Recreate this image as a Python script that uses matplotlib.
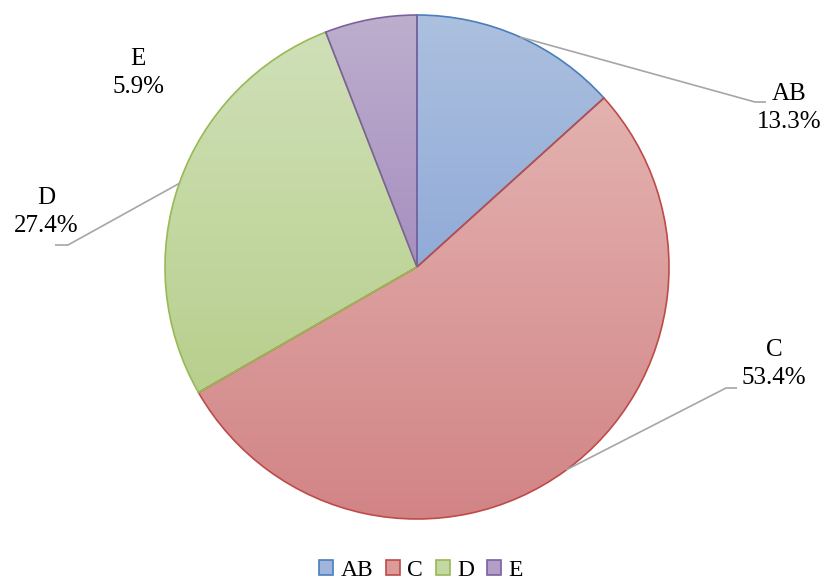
import numpy as np
import matplotlib
matplotlib.use("Agg")
import matplotlib.pyplot as plt
from matplotlib.patches import Patch
from matplotlib.colors import to_rgb

categories = ["AB", "C", "D", "E"]
shares = [13.3, 53.4, 27.4, 5.9]

edge_colors = ["#4a7ebb", "#be4b48", "#98b954", "#7d60a0"]
top_colors = ["#acc0df", "#e3b2b0", "#cfe0b8", "#bdaecd"]
bottom_colors = ["#91abd8", "#d28485", "#b8cf8d", "#a78fc0"]

plt.rcParams["font.family"] = ["Liberation Serif", "DejaVu Serif"]

W, H = 826, 581
fig = plt.figure(figsize=(W / 100, H / 100), dpi=100)
ax = fig.add_axes([0, 0, 1, 1])
ax.set_xlim(0, W)
ax.set_ylim(0, H)
ax.axis("off")

cx, cy, R = 417, H - 267, 252

wedges, _ = ax.pie(shares, center=(cx, cy), radius=R, startangle=90,
                   counterclock=False, frame=True,
                   wedgeprops=dict(facecolor="none", linewidth=1.2, zorder=3))
for w, ec, top, bot in zip(wedges, edge_colors, top_colors, bottom_colors):
    w.set_edgecolor(ec)
    ext = w.get_path().get_extents()
    t = np.linspace(0, 1, 256)[:, None, None]
    grad = (1 - t) * np.array(to_rgb(top)) + t * np.array(to_rgb(bot))
    im = ax.imshow(grad, extent=(ext.x0, ext.x1, ext.y0, ext.y1), origin="upper",
                   aspect="auto", zorder=2, interpolation="bilinear")
    im.set_clip_path(w)

ax.set_xlim(0, W)
ax.set_ylim(0, H)
ax.set_aspect("auto")
ax.axis("off")

# label positions (text centre) and leader lines
label_pos = {
    "AB": (789, H - 108),
    "C": (774, H - 364),
    "D": (46, H - 212),
    "E": (138, H - 73),
}
leaders = {
    "AB": [(520, 37), (755, 102), (766, 102)],
    "C": [(737, 388), (726, 388), (566, 470)],
    "D": [(55, 245), (68, 245), (180, 183)],
}
lc = "#a6a6a6"
for cat, pts in leaders.items():
    xs = [p[0] for p in pts]
    ys = [H - p[1] for p in pts]
    ax.plot(xs, ys, color=lc, lw=1.2, zorder=4, solid_capstyle="butt")

for cat, val in zip(categories, shares):
    x, y = label_pos[cat]
    ax.text(x, y, f"{cat}\n{val:.1f}%", ha="center", va="center",
            fontsize=18, linespacing=1.3, zorder=5)

handles = [Patch(facecolor=(np.array(to_rgb(t)) + np.array(to_rgb(b))) / 2,
                 edgecolor=e, linewidth=1.2)
           for t, b, e in zip(top_colors, bottom_colors, edge_colors)]
fig.legend(handles, categories, loc="center", bbox_to_anchor=(421 / W, 1 - 570 / H),
           ncol=4, frameon=False, fontsize=17, handlelength=0.6, handleheight=0.6,
           handletextpad=0.3, columnspacing=0.55, borderpad=0)

fig.savefig("out.png", dpi=100)
